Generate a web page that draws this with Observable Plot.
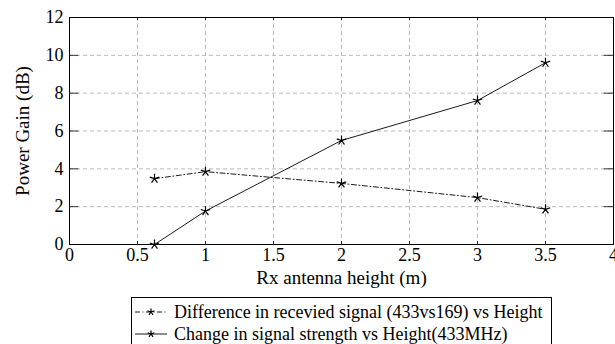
<!DOCTYPE html>
<html><head><meta charset="utf-8">
<script src="https://cdn.jsdelivr.net/npm/d3@7"></script>
<script src="https://cdn.jsdelivr.net/npm/@observablehq/plot@0.6"></script>
<style>
body{margin:0;background:#fff;font-family:'Liberation Serif',serif;}
#wrap{position:relative;width:615px;height:344px;overflow:hidden;}
#wrap svg text, #wrap svg tspan{font-family:'Liberation Serif','Times New Roman',serif !important;}
#legend{position:absolute;left:131px;top:297px;width:421px;height:52px;border:1px solid #000;box-sizing:border-box;font-size:18px;font-family:'Liberation Serif',serif;}
.row{position:absolute;left:0;height:22px;display:flex;align-items:center;white-space:nowrap;}
.row svg{margin-left:2px;margin-right:6px;}
</style></head>
<body><div id="wrap"><div id="legend"></div></div>
<script>
const heights = [0.625, 1, 2, 3, 3.5];
const diffValues = [3.48, 3.85, 3.23, 2.48, 1.86];
const changeValues = [0, 1.77, 5.50, 7.61, 9.61];
const seriesNames = ["Difference in recevied signal (433vs169) vs Height", "Change in signal strength vs Height(433MHz)"];
const xTicks = [0, 0.5, 1, 1.5, 2, 2.5, 3, 3.5, 4];
const yTicks = [0, 2, 4, 6, 8, 10, 12];
const xLabel = "Rx antenna height (m)";
const yLabel = "Power Gain (dB)";

const data = [];
heights.forEach((h, i) => data.push({x: h, y: diffValues[i], s: seriesNames[0]}));
heights.forEach((h, i) => data.push({x: h, y: changeValues[i], s: seriesNames[1]}));

const FF = "Liberation Serif, serif";
const star5 = {draw(ctx, size){ const r = Math.sqrt(size)/1.6; for(let k=0;k<5;k++){const a=-Math.PI/2+k*2*Math.PI/5; ctx.moveTo(0,0); ctx.lineTo(r*Math.cos(a), r*Math.sin(a));} }};
const tk = 0.16, tkx = 0.017;

const chart = Plot.plot({
  width: 615, height: 292,
  marginLeft: 69, marginRight: 2, marginTop: 17, marginBottom: 48,
  style: {color: "#000", background: "#fff"},
  x: {domain: [0, 4]},
  y: {domain: [0, 12]},
  marks: [
    Plot.gridX(xTicks, {stroke: "#aaa", strokeOpacity: 1, strokeDasharray: "4,3", strokeWidth: 0.8}),
    Plot.gridY(yTicks, {stroke: "#aaa", strokeOpacity: 1, strokeDasharray: "4,3", strokeWidth: 0.8}),
    Plot.ruleX(xTicks, {y1: 0, y2: tk, stroke: "#000", strokeWidth: 0.8}),
    Plot.ruleX(xTicks, {y1: 12 - tk, y2: 12, stroke: "#000", strokeWidth: 0.8}),
    Plot.ruleY(yTicks, {x1: 0, x2: tkx * 4, stroke: "#000", strokeWidth: 0.8}),
    Plot.ruleY(yTicks, {x1: 4 - tkx * 4, x2: 4, stroke: "#000", strokeWidth: 0.8}),
    Plot.frame({stroke: "#000", strokeWidth: 1}),
    Plot.axisX(xTicks, {tickSize: 0, tickPadding: 4, fontSize: 18, fontFamily: FF, label: null, tickFormat: d => String(d)}),
    Plot.axisY(yTicks, {tickSize: 0, tickPadding: 6, fontSize: 18, fontFamily: FF, label: null, tickFormat: d => String(d)}),
    Plot.text([xLabel], {text: d => d, frameAnchor: "bottom", textAnchor: "middle", dy: 39, fontSize: 19, fontFamily: FF}),
    Plot.text([yLabel], {text: d => d, frameAnchor: "left", textAnchor: "middle", dx: -47, rotate: -90, fontSize: 19, fontFamily: FF}),
    Plot.line(data.filter(d => d.s === seriesNames[0]), {x: "x", y: "y", stroke: "#000", strokeWidth: 0.9, strokeDasharray: "5,2.5,1,2.5"}),
    Plot.line(data.filter(d => d.s === seriesNames[1]), {x: "x", y: "y", stroke: "#000", strokeWidth: 0.9}),
    Plot.dot(data, {x: "x", y: "y", symbol: star5, r: 4.5, stroke: "#000", strokeWidth: 1.2, fill: "none"})
  ]
});
document.getElementById("wrap").prepend(chart);

const legend = document.getElementById("legend");
seriesNames.forEach((name, i) => {
  const row = document.createElement("div");
  row.className = "row";
  row.style.top = (i === 0 ? 3 : 25) + "px";
  const dash = i === 0 ? "5,2.5,1,2.5" : "none";
  let pts = "";
  for(let k=0;k<5;k++){const a=-Math.PI/2+k*2*Math.PI/5; pts += `M17,11L${17+3.5*Math.cos(a)},${11+3.5*Math.sin(a)}`;}
  row.innerHTML = `<svg width="34" height="22"><line x1="1" y1="11" x2="33" y2="11" stroke="#000" stroke-width="0.9" stroke-dasharray="${dash}"/><path d="${pts}" stroke="#000" stroke-width="1.2" fill="none"/></svg><span>${name}</span>`;
  legend.appendChild(row);
});
</script></body></html>
